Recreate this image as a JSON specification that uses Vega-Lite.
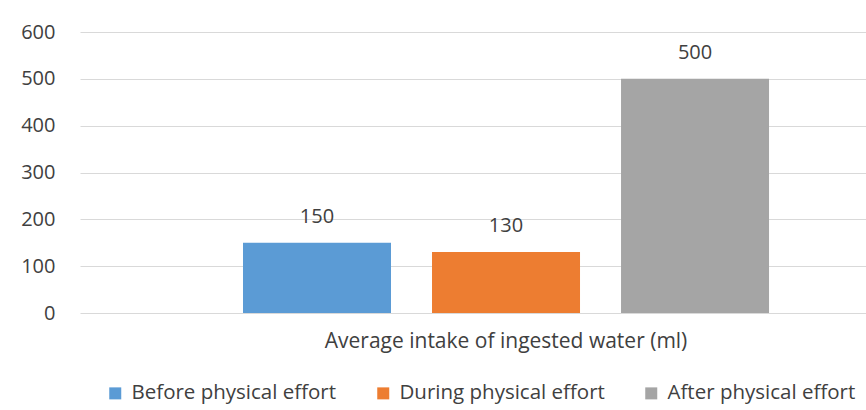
{
  "$schema": "https://vega.github.io/schema/vega-lite/v6.json",
  "autosize": {"type": "none"},
  "padding": {"left": 80, "top": 32, "right": 0, "bottom": 97},
  "width": 786,
  "height": 281,
  "background": "white",
  "config": {
    "font": "Open Sans",
    "view": {"stroke": null},
    "axis": {"labelColor": "#404040", "labelFont": "Open Sans", "labelFontSize": 20, "labelLimit": 0},
    "legend": {"labelColor": "#404040", "labelFont": "Open Sans", "labelFontSize": 20.5, "labelLimit": 0}
  },
  "data": {
    "values": [
      {"category": "Average intake of ingested water (ml)", "phase": "Before physical effort", "value": 150},
      {"category": "Average intake of ingested water (ml)", "phase": "During physical effort", "value": 130},
      {"category": "Average intake of ingested water (ml)", "phase": "After physical effort", "value": 500}
    ]
  },
  "encoding": {
    "x": {
      "field": "category", "type": "nominal",
      "scale": {"paddingInner": 0, "paddingOuter": 0.2471, "align": 0.627},
      "axis": {"title": null, "ticks": false, "domain": false, "grid": false, "labelAngle": 0, "labelPadding": 17, "labelBaseline": "top", "labelFontSize": 21}
    },
    "xOffset": {
      "field": "phase", "type": "nominal",
      "sort": ["Before physical effort", "During physical effort", "After physical effort"],
      "scale": {"paddingInner": 0.217, "paddingOuter": 0}
    },
    "y": {
      "field": "value", "type": "quantitative",
      "scale": {"domain": [0, 600], "nice": false},
      "axis": {"title": null, "values": [0, 100, 200, 300, 400, 500, 600], "ticks": false, "domain": false, "gridColor": "#d9d9d9", "gridWidth": 1, "labelPadding": 25}
    }
  },
  "layer": [
    {
      "mark": {"type": "bar"},
      "encoding": {
        "color": {
          "field": "phase", "type": "nominal",
          "sort": ["Before physical effort", "During physical effort", "After physical effort"],
          "scale": {"domain": ["Before physical effort", "During physical effort", "After physical effort"], "range": ["#5B9BD5", "#ED7D31", "#A5A5A5"]},
          "legend": {
            "title": null, "orient": "none", "direction": "horizontal",
            "legendX": 25, "legendY": 351, "padding": 0,
            "symbolType": "square", "symbolSize": 144, "symbolStrokeWidth": 0,
            "labelOffset": 6, "columnPadding": 36
          }
        }
      }
    },
    {
      "mark": {"type": "text", "baseline": "bottom", "dy": -16, "fontSize": 20, "color": "#404040", "font": "Open Sans"},
      "encoding": {"text": {"field": "value", "type": "quantitative"}}
    }
  ]
}
